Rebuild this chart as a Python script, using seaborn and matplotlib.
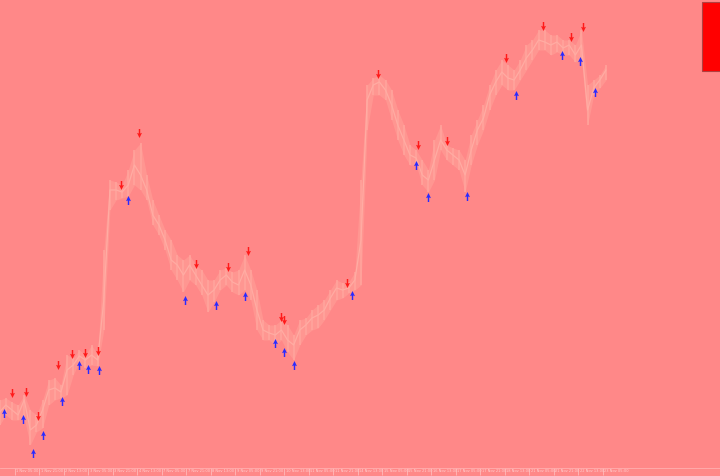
import numpy as np
import pandas as pd
import seaborn as sns
import matplotlib.pyplot as plt
from matplotlib.path import Path
from matplotlib.patches import Rectangle
from matplotlib.transforms import ScaledTranslation

# barras horarias, uma amostra a cada 4 barras
bar_idx = list(range(6, 403, 4))

preco_max = [80, 82, 78, 75, 85, 70, 65, 80, 100, 102,
             95, 125, 122, 130, 125, 135, 125, 230, 300, 298,
             295, 310, 330, 337, 305, 280, 265, 250, 240, 225,
             220, 225, 215, 210, 200, 200, 210, 212, 208, 210,
             225, 210, 190, 160, 155, 155, 160, 155, 145, 160,
             162, 170, 175, 180, 190, 200, 197, 198, 208, 300,
             395, 402, 405, 400, 390, 370, 355, 335, 330, 320,
             310, 340, 355, 335, 332, 330, 320, 345, 360, 375,
             395, 410, 420, 415, 410, 420, 435, 440, 450, 450,
             445, 445, 440, 440, 435, 450, 395, 400, 405, 415]

preco_min = [55, 65, 60, 60, 62, 35, 48, 52, 75, 80,
             82, 85, 105, 118, 112, 115, 114, 150, 270, 280,
             282, 284, 295, 290, 280, 255, 245, 230, 210, 200,
             188, 200, 195, 185, 168, 178, 190, 195, 188, 185,
             190, 180, 150, 140, 140, 135, 140, 128, 120, 135,
             145, 150, 152, 160, 170, 180, 182, 187, 190, 195,
             350, 385, 385, 380, 360, 340, 325, 315, 315, 295,
             288, 300, 330, 320, 315, 310, 288, 315, 335, 350,
             370, 385, 395, 390, 390, 400, 410, 420, 430, 430,
             425, 428, 425, 425, 418, 420, 355, 385, 392, 400]

preco_fecho = [68, 75, 70, 65, 80, 50, 55, 70, 90, 92,
               88, 110, 115, 124, 120, 125, 120, 180, 290, 290,
               288, 295, 315, 305, 290, 265, 255, 240, 220, 215,
               205, 215, 205, 195, 185, 190, 200, 205, 198, 195,
               210, 195, 170, 150, 147, 145, 150, 140, 135, 150,
               155, 162, 165, 170, 182, 192, 190, 192, 200, 240,
               380, 395, 398, 390, 375, 355, 340, 325, 322, 305,
               300, 320, 340, 330, 325, 320, 305, 330, 350, 362,
               385, 398, 408, 402, 400, 410, 422, 430, 440, 438,
               435, 438, 432, 435, 425, 435, 370, 392, 400, 410]

# sinais: setas vermelhas (venda) e azuis (compra)
venda_barra = [14, 23, 31, 44, 53, 62, 70, 85, 97, 134, 155,
               168, 190, 192, 233, 253, 279, 298, 337, 361, 379, 387]
venda_preco = [87, 88, 64, 115, 126, 127, 129, 295, 347, 216, 213,
               229, 163, 160, 197, 406, 335, 339, 422, 454, 443, 453]
compra_barra = [9, 21, 28, 34, 47, 58, 64, 71, 90, 127, 147, 166,
                186, 192, 198, 236, 278, 286, 311, 343, 373, 385, 395]
compra_preco = [67, 61, 27, 45, 79, 115, 111, 110, 280, 180, 175, 184,
                137, 128, 115, 185, 315, 283, 284, 385, 425, 419, 388]

rotulos = ["31 Oct 13:00", "1 Nov 05:00", "1 Nov 21:00", "2 Nov 13:00", "3 Nov 05:00",
           "3 Nov 21:00", "4 Nov 13:00", "7 Nov 05:00", "7 Nov 21:00", "8 Nov 13:00",
           "9 Nov 05:00", "9 Nov 21:00", "10 Nov 13:00", "11 Nov 05:00", "11 Nov 21:00",
           "14 Nov 13:00", "15 Nov 05:00", "15 Nov 21:00", "16 Nov 13:00", "17 Nov 05:00",
           "17 Nov 21:00", "18 Nov 13:00", "21 Nov 05:00", "21 Nov 21:00", "22 Nov 13:00",
           "23 Nov 05:00"]

df = pd.DataFrame({"barra": bar_idx, "max": preco_max, "min": preco_min, "fecho": preco_fecho})
sinais_v = pd.DataFrame({"barra": venda_barra, "preco": venda_preco})
sinais_c = pd.DataFrame({"barra": compra_barra, "preco": compra_preco})

fundo = "#FF8888"
sns.set_theme(style="white", rc={"axes.facecolor": fundo, "figure.facecolor": fundo})

fig = plt.figure(figsize=(7.2, 4.76), dpi=100)
ax = fig.add_axes([0, 8 / 476, 1, 468 / 476])

# faixa das barras + linha de fecho
ax.fill_between(df["barra"], df["min"], df["max"], color="#FFA098", alpha=0.6, lw=0)
ax.vlines(df["barra"], df["min"], df["max"], color="#FFA89F", linewidth=1.2, alpha=0.8)
sns.lineplot(x="barra", y="fecho", data=df, ax=ax, color="#FFACA3", linewidth=0.9)

# setas
seta_baixo = Path([(-0.16, 1), (0.16, 1), (0.16, 0.0), (0.55, 0.15), (0, -1),
                   (-0.55, 0.15), (-0.16, 0.0), (-0.16, 1)], closed=True)
seta_cima = Path([(x, -y) for x, y in seta_baixo.vertices], closed=True)
sns.scatterplot(x="barra", y="preco", data=sinais_v, ax=ax, marker=seta_baixo,
                color="#FF1A1A", s=42, linewidth=0, zorder=5)
sns.scatterplot(x="barra", y="preco", data=sinais_c, ax=ax, marker=seta_cima,
                color="#2A2AFF", s=42, linewidth=0, zorder=5)

ax.set_xlabel("")
ax.set_ylabel("")
ax.set_yticks([])

ax.set_xticks([16 * k for k in range(len(rotulos))], labels=rotulos)
ax.tick_params(axis="x", direction="out", length=5, width=0.5, color="#FFC4C4",
               pad=-4.2, labelsize=2.6, labelcolor="#FFD0D0", bottom=True)
desloc = ScaledTranslation(1.2 / 100, 0, fig.dpi_scale_trans)
for t in ax.get_xticklabels():
    t.set_horizontalalignment("left")
    t.set_transform(t.get_transform() + desloc)

# limites depois dos ticks (set_xticks alarga a vista)
ax.set_xlim(6.2, 6.2 + 720 / 1.531)
ax.set_ylim(12, 480)

for lado in ["top", "left", "right"]:
    ax.spines[lado].set_visible(False)
ax.spines["bottom"].set_color("#FFB0B0")
ax.spines["bottom"].set_linewidth(0.6)

# indicador no canto superior direito
ax.add_patch(Rectangle((702 / 720, 1 - 71 / 468), 20 / 720, 69 / 468, transform=ax.transAxes,
                       facecolor="#FF0000", edgecolor="#B04040", linewidth=0.8, clip_on=False))

fig.savefig("out.png", dpi=100, facecolor=fundo)
